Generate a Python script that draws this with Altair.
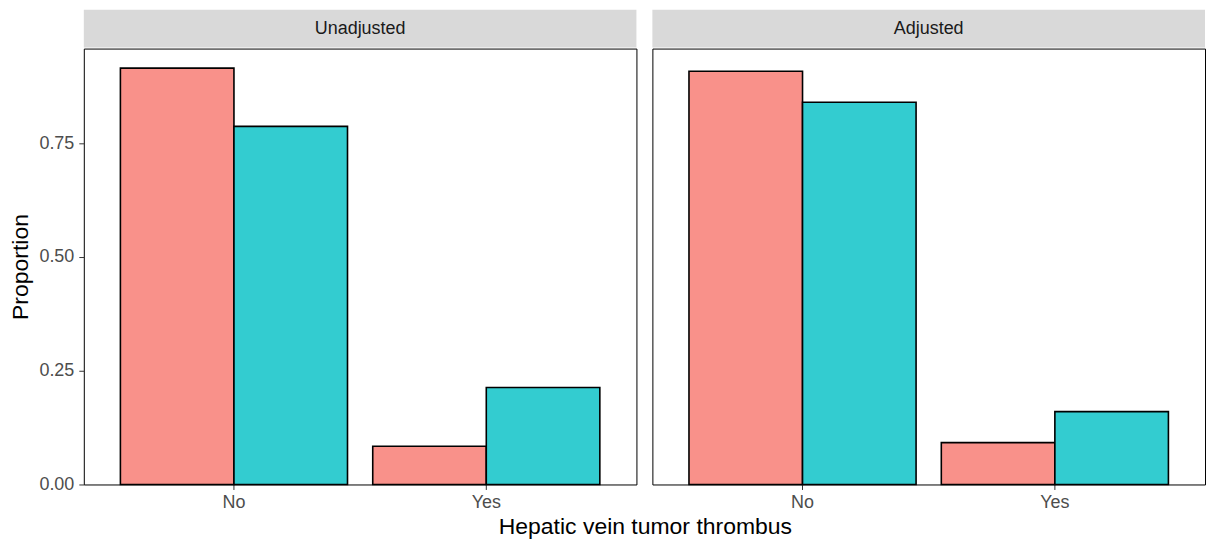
import altair as alt
import pandas as pd

panels = ["Unadjusted", "Adjusted"]
categories = ["No", "Yes"]
groups = ["Group 1", "Group 2"]
unadjusted_g1 = [0.915, 0.084]
unadjusted_g2 = [0.787, 0.213]
adjusted_g1 = [0.908, 0.092]
adjusted_g2 = [0.840, 0.160]
colors = ["#F9918A", "#33CCD0"]

rows = []
for panel, (g1, g2) in zip(panels, [(unadjusted_g1, unadjusted_g2), (adjusted_g1, adjusted_g2)]):
    for i, cat in enumerate(categories):
        rows.append({"panel": panel, "category": cat, "group": groups[0], "value": g1[i]})
        rows.append({"panel": panel, "category": cat, "group": groups[1], "value": g2[i]})
df = pd.DataFrame(rows)

FONT = "Liberation Sans"
W, H, SH = 554, 437, 38


def strip(panel):
    lab = pd.DataFrame({"label": [panel]})
    bg = alt.Chart(lab).mark_rect(color="#D9D9D9").encode(
        x=alt.value(0), x2=alt.value(W), y=alt.value(0), y2=alt.value(SH)
    )
    txt = alt.Chart(lab).mark_text(font=FONT, fontSize=18, color="#1A1A1A").encode(
        text="label:N", x=alt.value(W / 2), y=alt.value(SH / 2)
    )
    return alt.layer(bg, txt).properties(width=W, height=SH, view=alt.ViewBackground(stroke=None))


def bars(panel, show_y):
    if show_y:
        y_axis = alt.Axis(values=[0, 0.25, 0.5, 0.75], format=".2f", title="Proportion",
                          titleFontSize=23, titleFont=FONT, titleFontWeight="normal",
                          titleColor="black", titlePadding=6, labelFontSize=18,
                          labelFont=FONT, labelColor="#4D4D4D", tickColor="#333333",
                          tickSize=5, labelPadding=5, domain=False, grid=False)
    else:
        y_axis = None
    return alt.Chart(df).transform_filter(alt.datum.panel == panel).mark_bar(
        stroke="black", strokeWidth=1.6
    ).encode(
        x=alt.X("category:N", sort=categories,
                scale=alt.Scale(paddingInner=0.1, paddingOuter=0.145),
                axis=alt.Axis(title=None, labelAngle=0, labelFontSize=18, labelFont=FONT,
                              labelColor="#4D4D4D", tickColor="#333333", tickSize=5,
                              labelPadding=4, domain=False, grid=False)),
        xOffset=alt.XOffset("group:N", sort=groups,
                            scale=alt.Scale(paddingInner=0, paddingOuter=0)),
        y=alt.Y("value:Q", scale=alt.Scale(domain=[0, 0.958], nice=False, zero=True), axis=y_axis),
        color=alt.Color("group:N", scale=alt.Scale(domain=groups, range=colors), legend=None),
    ).properties(width=W, height=H, view=alt.ViewBackground(stroke="black", strokeWidth=1))


left = alt.vconcat(strip(panels[0]), bars(panels[0], True), spacing=0)
right = alt.vconcat(strip(panels[1]), bars(panels[1], False), spacing=0)

chart = alt.hconcat(left, right, spacing=14).properties(
    title=alt.TitleParams("Hepatic vein tumor thrombus", orient="bottom", anchor="middle",
                          fontSize=23, font=FONT, fontWeight="normal", color="black",
                          dx=38, offset=4),
    padding={"left": 1, "top": 1, "right": 0, "bottom": 0},
).configure(font=FONT).configure_view(stroke=None)

chart.save("out.html", embed_options={"renderer": "svg", "actions": False})
